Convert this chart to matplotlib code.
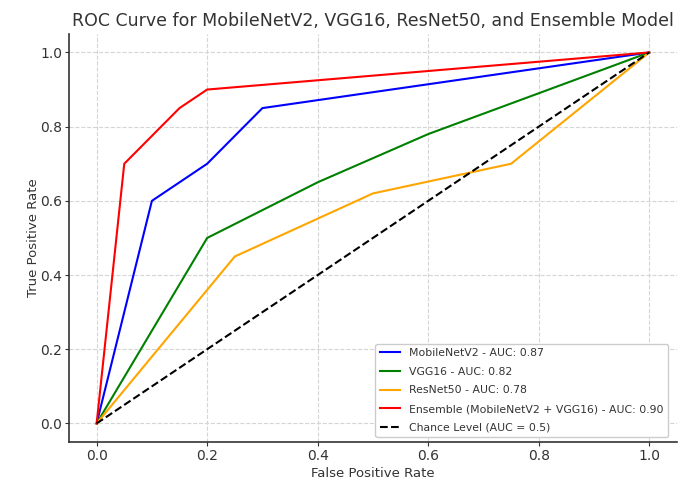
import numpy as np
import matplotlib
matplotlib.use("Agg")
import matplotlib.pyplot as plt

# ROC points
fpr_mobilenet = [0.0, 0.1, 0.2, 0.3, 1.0]
tpr_mobilenet = [0.0, 0.6, 0.7, 0.85, 1.0]

fpr_vgg = [0.0, 0.2, 0.4, 0.6, 1.0]
tpr_vgg = [0.0, 0.5, 0.65, 0.78, 1.0]

fpr_resnet = [0.0, 0.25, 0.5, 0.75, 1.0]
tpr_resnet = [0.0, 0.45, 0.62, 0.7, 1.0]

fpr_ensemble = [0.0, 0.05, 0.15, 0.2, 1.0]
tpr_ensemble = [0.0, 0.7, 0.85, 0.9, 1.0]

auc_mobilenet = 0.87
auc_vgg = 0.82
auc_resnet = 0.78
auc_ensemble = 0.90

txt = '#333333'

fig = plt.figure(figsize=(6.9, 4.87), dpi=100)
ax = fig.add_axes([0.1, 0.0924, 0.881, 0.838])

ax.plot(fpr_mobilenet, tpr_mobilenet, color='blue', lw=1.5,
        label='MobileNetV2 - AUC: %.2f' % auc_mobilenet)
ax.plot(fpr_vgg, tpr_vgg, color='green', lw=1.5,
        label='VGG16 - AUC: %.2f' % auc_vgg)
ax.plot(fpr_resnet, tpr_resnet, color='orange', lw=1.5,
        label='ResNet50 - AUC: %.2f' % auc_resnet)
ax.plot(fpr_ensemble, tpr_ensemble, color='red', lw=1.5,
        label='Ensemble (MobileNetV2 + VGG16) - AUC: %.2f' % auc_ensemble)
ax.plot([0, 1], [0, 1], color='black', ls='--', lw=1.5,
        label='Chance Level (AUC = 0.5)')

ax.set_xlim(-0.05, 1.05)
ax.set_ylim(-0.05, 1.05)
ax.set_xticks(np.arange(0, 1.01, 0.2))
ax.set_yticks(np.arange(0, 1.01, 0.2))
ax.grid(True, ls='--', color='#d5d5d5', lw=0.8)
ax.set_axisbelow(True)

for s in ['top', 'right']:
    ax.spines[s].set_visible(False)
for s in ['left', 'bottom']:
    ax.spines[s].set_color('#333333')
    ax.spines[s].set_linewidth(1.2)
ax.tick_params(colors=txt, labelsize=10, length=3, pad=2)

ax.set_title('ROC Curve for MobileNetV2, VGG16, ResNet50, and Ensemble Model',
             fontsize=12.5, color=txt, pad=6)
ax.set_xlabel('False Positive Rate', fontsize=9.5, color=txt, labelpad=3)
ax.set_ylabel('True Positive Rate', fontsize=9.5, color=txt, labelpad=0)

leg = ax.legend(loc='lower right', bbox_to_anchor=(0.985, 0.012),
                borderaxespad=0, fontsize=7.8, labelcolor=txt, framealpha=1,
                labelspacing=0.8, handlelength=1.9)
leg.get_frame().set_edgecolor('#cccccc')

fig.savefig('out.png', dpi=100, facecolor='white')
